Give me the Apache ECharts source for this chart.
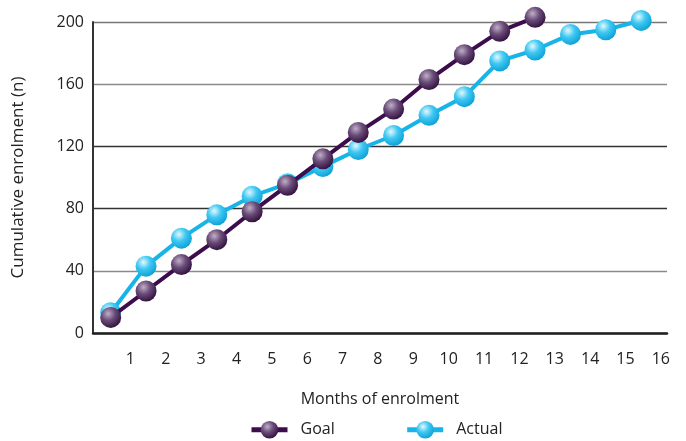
<!DOCTYPE html>
<html>
<head>
<meta charset="utf-8">
<script src="https://cdn.jsdelivr.net/npm/echarts@6/dist/echarts.min.js"></script>
<style>
  html, body { margin: 0; padding: 0; background: #fff; }
  #chart { width: 686px; height: 441px; }
</style>
</head>
<body>
<div id="chart"></div>
<script>
// Months of enrolment (each point sits in the middle of its month)
const goalMonths = [1, 2, 3, 4, 5, 6, 7, 8, 9, 10, 11, 12, 13];
const goalValues = [10, 27, 44, 60, 78, 95, 112, 129, 144, 163, 179, 194, 203];

const actualMonths = [1, 2, 3, 4, 5, 6, 7, 8, 9, 10, 11, 12, 13, 14, 15, 16];
const actualValues = [13, 43, 61, 76, 88, 96, 107, 118, 127, 140, 152, 175, 182, 192, 195, 201];

const monthTicks = [1, 2, 3, 4, 5, 6, 7, 8, 9, 10, 11, 12, 13, 14, 15, 16];
const enrolTicks = [0, 40, 80, 120, 160, 200];

const FONT = '"Open Sans", "Noto Sans", sans-serif';

function pairs(months, values) {
  return months.map((m, i) => [m - 0.5, values[i]]);
}

function sphere(light, mid, dark) {
  return {
    type: 'radial', x: 0.38, y: 0.32, r: 0.72,
    colorStops: [
      { offset: 0, color: light },
      { offset: 0.45, color: mid },
      { offset: 1, color: dark }
    ]
  };
}

const chart = echarts.init(document.getElementById('chart'), null, { renderer: 'canvas' });

chart.setOption({
  animation: false,
  backgroundColor: '#ffffff',
  grid: { left: 93, right: 19, top: 22, bottom: 108 },
  legend: {
    data: ['Goal', 'Actual'],
    top: 421,
    left: 249,
    padding: [0, 0, 0, 0],
    itemWidth: 36,
    itemHeight: 22,
    itemGap: 70,
    lineStyle: { width: 5 },
    textStyle: { fontFamily: FONT, fontSize: 16, color: '#222', padding: [0, 0, 0, 8] }
  },
  xAxis: {
    type: 'value',
    min: 0,
    max: 16.23,
    interval: 1,
    name: 'Months of enrolment',
    nameLocation: 'middle',
    nameGap: 58,
    nameTextStyle: { fontFamily: FONT, fontSize: 16, color: '#222' },
    axisLine: { show: true, lineStyle: { color: '#222', width: 2.5 } },
    axisTick: { show: false },
    splitLine: { show: false },
    axisLabel: {
      margin: 18,
      padding: [0, 0, 0, 4],
      fontFamily: FONT, fontSize: 16, color: '#222',
      formatter: v => (monthTicks.includes(v) ? String(v) : '')
    }
  },
  yAxis: {
    type: 'value',
    min: 0,
    max: 200,
    interval: 40,
    name: 'Cumulative enrolment (n)',
    nameLocation: 'middle',
    nameGap: 66,
    nameTextStyle: { fontFamily: FONT, fontSize: 17, color: '#222' },
    axisLine: { show: true, lineStyle: { color: '#333', width: 2 } },
    axisTick: { show: false },
    axisLabel: {
      margin: 9,
      fontFamily: FONT, fontSize: 16, color: '#222',
      formatter: v => (enrolTicks.includes(v) ? String(v) : '')
    },
    splitLine: {
      show: true,
      lineStyle: { color: ['#222', '#8a8a8a', '#333', '#333', '#8a8a8a', '#777'], width: 1.3 }
    }
  },
  series: [
    {
      name: 'Actual',
      type: 'line',
      clip: false,
      z: 2,
      data: pairs(actualMonths, actualValues),
      symbol: 'circle',
      symbolSize: 21,
      lineStyle: { color: '#18b4e8', width: 4 },
      itemStyle: { color: sphere('#e4f8ff', '#3fc8f2', '#0a9fd6') }
    },
    {
      name: 'Goal',
      type: 'line',
      clip: false,
      z: 3,
      data: pairs(goalMonths, goalValues),
      symbol: 'circle',
      symbolSize: 21,
      lineStyle: { color: '#3d0c4c', width: 4 },
      itemStyle: { color: sphere('#c0b0c8', '#6b4d7a', '#2f0e3c') }
    }
  ]
});
</script>
</body>
</html>
